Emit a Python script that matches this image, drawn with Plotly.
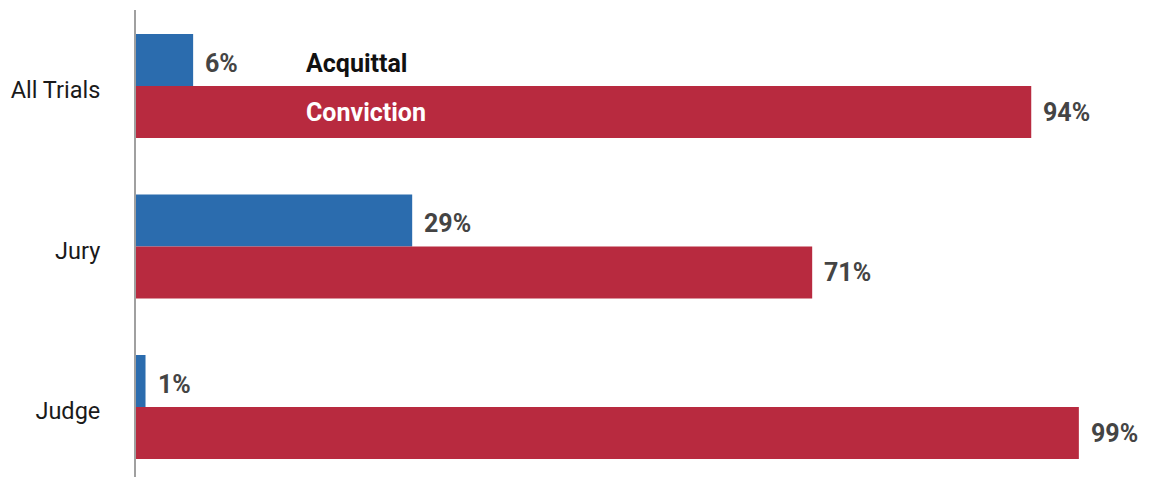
import plotly.graph_objects as go

categories = ["All Trials", "Jury", "Judge"]
acquittal = [6, 29, 1]
conviction = [94, 71, 99]
series_names = ["Acquittal", "Conviction"]

BLUE = "#2B6CAE"
RED = "#B82A3F"
LABEL = "#444444"
FONT = "Roboto"

fig = go.Figure()
fig.add_trace(go.Bar(y=categories, x=acquittal, orientation="h", name=series_names[0],
                     marker=dict(color=BLUE, line=dict(width=0)), hoverinfo="x+y"))
fig.add_trace(go.Bar(y=categories, x=conviction, orientation="h", name=series_names[1],
                     marker=dict(color=RED, line=dict(width=0)), hoverinfo="x+y"))

annotations = []
for cat, a, c in zip(categories, acquittal, conviction):
    annotations.append(dict(x=a, y=cat, text=f"{a}%", xanchor="left", yanchor="middle",
                            xshift=10, yshift=23, showarrow=False,
                            font=dict(family=FONT, size=25, color=LABEL, weight="bold")))
    annotations.append(dict(x=c, y=cat, text=f"{c}%", xanchor="left", yanchor="middle",
                            xshift=10, yshift=-26, showarrow=False,
                            font=dict(family=FONT, size=25, color=LABEL, weight="bold")))

# series labels placed like an inline legend on the first category
annotations.append(dict(x=17.6, y=categories[0], text=series_names[0], xanchor="left",
                        yanchor="middle", yshift=23, showarrow=False,
                        font=dict(family=FONT, size=25, color="#111111", weight="bold")))
annotations.append(dict(x=17.6, y=categories[0], text=series_names[1], xanchor="left",
                        yanchor="middle", yshift=-26, showarrow=False,
                        font=dict(family=FONT, size=25, color="#FFFFFF", weight="bold")))

# page body has an 8px default margin; figure is sized to fill the rest of the window
fig.update_layout(
    width=1144, height=469,
    margin=dict(l=128, r=16, t=2, b=0, autoexpand=False),
    paper_bgcolor="white", plot_bgcolor="white",
    barmode="group", bargap=0.352, bargroupgap=0,
    showlegend=False,
    annotations=annotations,
    font=dict(family=FONT),
    xaxis=dict(range=[0, 105], visible=False, fixedrange=True, automargin=False),
    yaxis=dict(type="category", range=[2.436, -0.4735], showline=True, linecolor="#A0A0A0",
               linewidth=2, showgrid=False, zeroline=False, ticks="", ticklabelstandoff=29,
               ticklabelshift=-4, automargin=False,
               tickfont=dict(family=FONT, size=23.5, color="#1A1A1A"), fixedrange=True),
)

fig.write_html("out.html")
